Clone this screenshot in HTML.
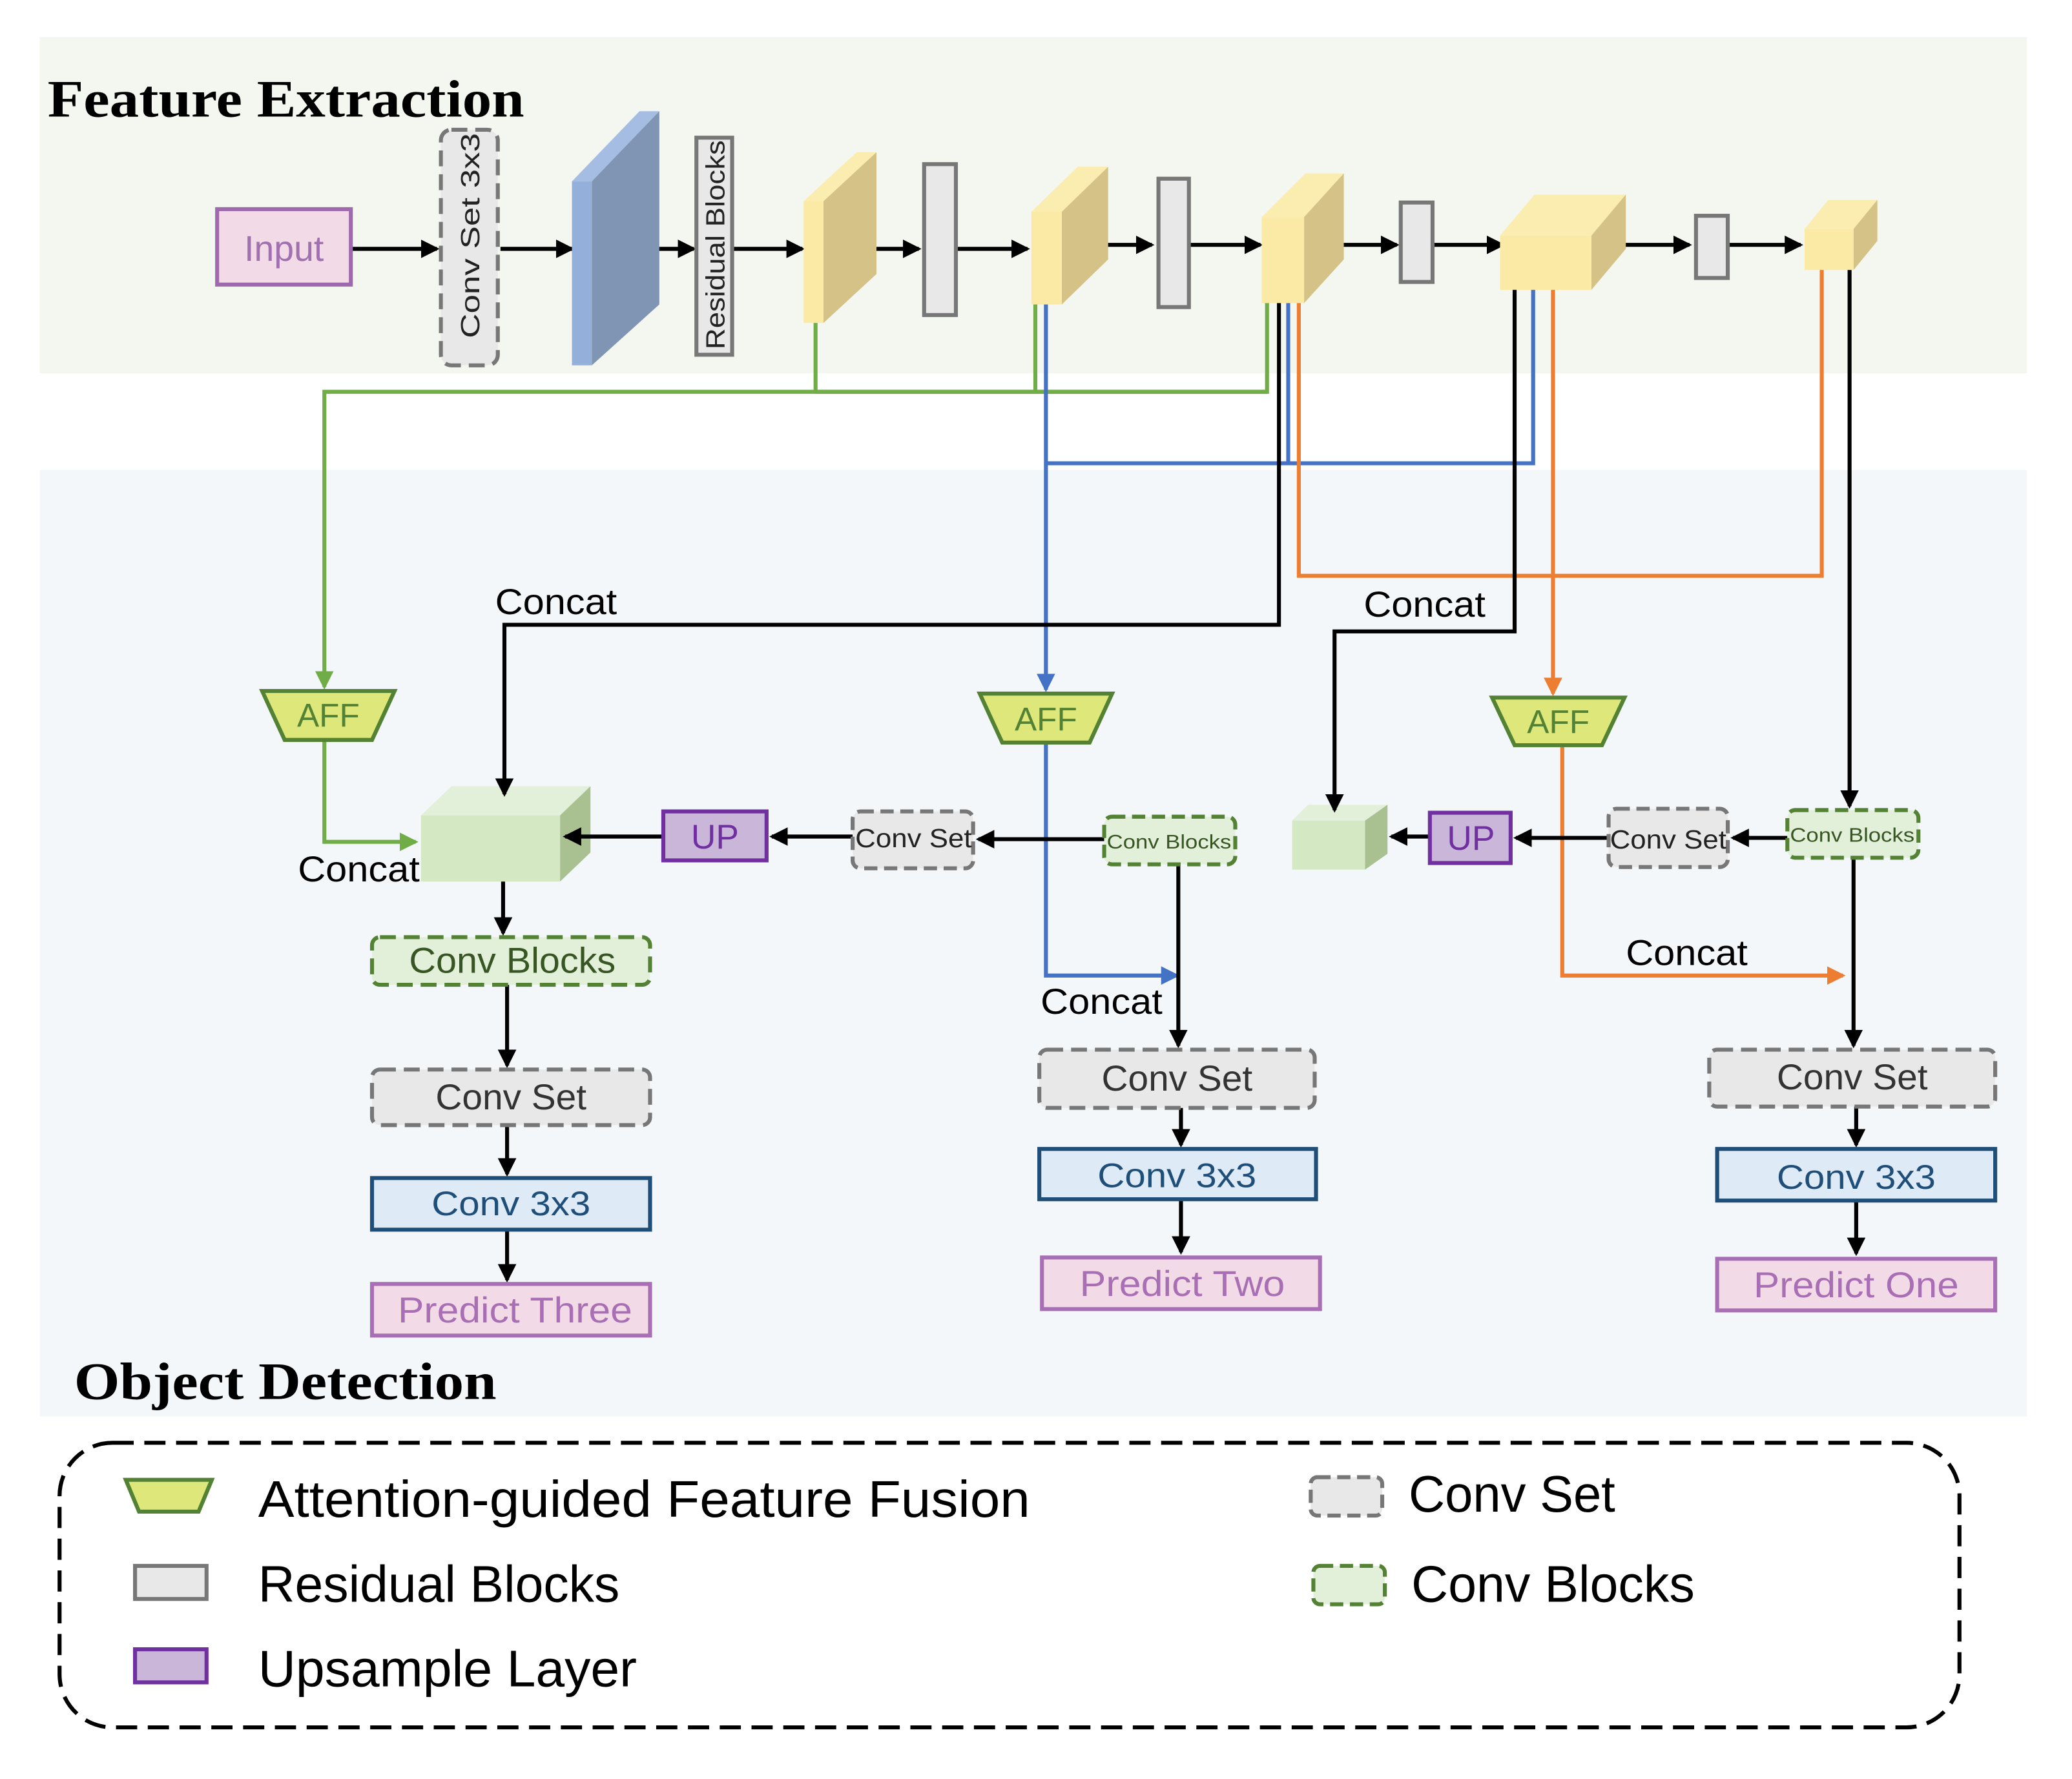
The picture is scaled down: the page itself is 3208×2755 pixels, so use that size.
<!DOCTYPE html>
<html><head><meta charset="utf-8">
<style>
html,body{margin:0;padding:0;background:#fff;}
svg{display:block;}
text{font-family:"Liberation Sans","DejaVu Sans",sans-serif;}
.ser{font-family:"Liberation Serif",serif;font-weight:bold;}
</style></head><body>
<svg width="3208" height="2755" viewBox="0 0 1565 1344" xmlns="http://www.w3.org/2000/svg">
<defs>
<marker id="ak" markerWidth="14" markerHeight="14" refX="12" refY="7" orient="auto" markerUnits="userSpaceOnUse"><path d="M0,0 L14,7 L0,14 z" fill="#000"/></marker>
<marker id="ag" markerWidth="14" markerHeight="14" refX="12" refY="7" orient="auto" markerUnits="userSpaceOnUse"><path d="M0,0 L14,7 L0,14 z" fill="#70ad47"/></marker>
<marker id="ab" markerWidth="14" markerHeight="14" refX="12" refY="7" orient="auto" markerUnits="userSpaceOnUse"><path d="M0,0 L14,7 L0,14 z" fill="#4472c4"/></marker>
<marker id="ao" markerWidth="14" markerHeight="14" refX="12" refY="7" orient="auto" markerUnits="userSpaceOnUse"><path d="M0,0 L14,7 L0,14 z" fill="#ed7d31"/></marker>
</defs>
<rect x="30" y="28" width="1501" height="254" fill="#f4f7f0"/>
<rect x="30" y="355" width="1501" height="715" fill="#f3f7fa"/>
<text x="36" y="88" class="ser" font-size="40" textLength="360" lengthAdjust="spacingAndGlyphs">Feature Extraction</text>
<text x="56" y="1057" class="ser" font-size="40" textLength="319" lengthAdjust="spacingAndGlyphs">Object Detection</text>

<!-- top chain -->
<g stroke="#000" stroke-width="3" marker-end="url(#ak)">
<line x1="266" y1="188" x2="330" y2="188"/>
<line x1="378" y1="188" x2="432" y2="188"/>
<line x1="470" y1="188" x2="524" y2="188"/>
<line x1="553" y1="188" x2="606" y2="188"/>
<line x1="640" y1="188" x2="694" y2="188"/>
<line x1="722" y1="188" x2="776" y2="188"/>
<line x1="818" y1="185" x2="870" y2="185"/>
<line x1="898" y1="185" x2="952" y2="185"/>
<line x1="1001" y1="185" x2="1055" y2="185"/>
<line x1="1082" y1="185" x2="1135" y2="185"/>
<line x1="1221" y1="185" x2="1276" y2="185"/>
<line x1="1305" y1="185" x2="1360" y2="185"/>
</g>
<rect x="164" y="158" width="101" height="57" fill="#f2dbe6" stroke="#9e6aad" stroke-width="3"/>
<text x="214.5" y="197" font-size="27" fill="#a070b0" text-anchor="middle">Input</text>
<rect x="333" y="98" width="43" height="178" rx="8" fill="#e8e8e8" stroke="#777" stroke-width="3" stroke-dasharray="12,6"/>
<text transform="translate(362,178) rotate(-90)" font-size="20" text-anchor="middle" fill="#222" textLength="155" lengthAdjust="spacingAndGlyphs">Conv Set 3x3</text>
<!-- blue slab -->
<polygon points="432,137 483,84 498,84 447,137" fill="#a6bde3"/>
<polygon points="447,137 498,84 498,230 447,276" fill="#8094b4"/>
<rect x="432" y="137" width="15" height="139" fill="#94afd9"/>
<rect x="526" y="104" width="27" height="164" fill="#e8e8e8" stroke="#777" stroke-width="3"/>
<text transform="translate(547,185) rotate(-90)" font-size="20" text-anchor="middle" fill="#222" textLength="158" lengthAdjust="spacingAndGlyphs">Residual Blocks</text>
<!-- yellow blocks -->
<g>
<polygon points="607,152 647,115 662,115 622,152" fill="#fbecb0"/><polygon points="622,152 662,115 662,207 622,244" fill="#d4c286"/><rect x="607" y="152" width="15" height="92" fill="#fbe9a6"/>
<polygon points="779,160 814,126 837,126 802,160" fill="#fbecb0"/><polygon points="802,160 837,126 837,196 802,230" fill="#d4c286"/><rect x="779" y="160" width="23" height="70" fill="#fbe9a6"/>
<polygon points="953,164 986,131 1015,131 985,164" fill="#fbecb0"/><polygon points="985,164 1015,131 1015,196 985,229" fill="#d4c286"/><rect x="953" y="164" width="32" height="65" fill="#fbe9a6"/>
<polygon points="1133,178 1159,147 1228,147 1202,178" fill="#fbecb0"/><polygon points="1202,178 1228,147 1228,188 1202,219" fill="#d4c286"/><rect x="1133" y="178" width="69" height="41" fill="#fbe9a6"/>
<polygon points="1363,173 1381,151 1418,151 1400,173" fill="#fbecb0"/><polygon points="1400,173 1418,151 1418,182 1400,204" fill="#d4c286"/><rect x="1363" y="173" width="37" height="31" fill="#fbe9a6"/>
</g>
<g fill="#e8e8e8" stroke="#777" stroke-width="3">
<rect x="698" y="124" width="24" height="114"/>
<rect x="875" y="135" width="23" height="97"/>
<rect x="1058" y="153" width="24" height="60"/>
<rect x="1281" y="163" width="24" height="47"/>
</g>

<!-- green cubes -->
<polygon points="318,616 341,594 446,594 423,616" fill="#e2efd9"/>
<polygon points="423,616 446,594 446,644 423,666" fill="#a9c090"/>
<rect x="318" y="616" width="105" height="50" fill="#d5e8c4"/>
<polygon points="976,620 988,608 1048,608 1031,620" fill="#e2efd9"/>
<polygon points="1031,620 1048,608 1048,645 1031,657" fill="#a9c090"/>
<rect x="976" y="620" width="55" height="37" fill="#d5e8c4"/>

<!-- connectors -->
<g fill="none" stroke-width="3">
<polyline points="616,244 616,296" stroke="#70ad47"/>
<polyline points="782,230 782,296" stroke="#70ad47"/>
<polyline points="957,229 957,296 245,296 245,519" stroke="#70ad47" marker-end="url(#ag)"/>
<line x1="616" y1="296" x2="957" y2="296" stroke="#70ad47"/>
<polyline points="790,230 790,521" stroke="#4472c4" marker-end="url(#ab)"/>
<polyline points="973,229 973,350" stroke="#4472c4"/>
<polyline points="790,350 1158,350 1158,219" stroke="#4472c4"/>
<polyline points="981,229 981,435 1376,435 1376,204" stroke="#ed7d31"/>
<polyline points="1173,219 1173,524" stroke="#ed7d31" marker-end="url(#ao)"/>
<polyline points="966,229 966,472 381,472 381,600" stroke="#000" marker-end="url(#ak)"/>
<polyline points="1144,219 1144,477 1008,477 1008,612" stroke="#000" marker-end="url(#ak)"/>
<polyline points="1397,204 1397,609" stroke="#000" marker-end="url(#ak)"/>
<polyline points="245,559 245,636 314,636" stroke="#70ad47" marker-end="url(#ag)"/>
<polyline points="790,561 790,737 889,737" stroke="#4472c4" marker-end="url(#ab)"/>
<polyline points="1180,563 1180,737 1392,737" stroke="#ed7d31" marker-end="url(#ao)"/>
</g>
<g font-size="27" fill="#000">
<text x="374" y="464" textLength="92" lengthAdjust="spacingAndGlyphs">Concat</text>
<text x="1030" y="466" textLength="92" lengthAdjust="spacingAndGlyphs">Concat</text>
<text x="225" y="666" textLength="92" lengthAdjust="spacingAndGlyphs">Concat</text>
<text x="786" y="766" textLength="92" lengthAdjust="spacingAndGlyphs">Concat</text>
<text x="1228" y="729" textLength="92" lengthAdjust="spacingAndGlyphs">Concat</text>
</g>
<!-- AFF -->
<g fill="#dde77a" stroke="#548235" stroke-width="3">
<polygon points="198,522 298,522 281,559 215,559"/>
<polygon points="740,524 840,524 823,561 757,561"/>
<polygon points="1127,527 1227,527 1210,563 1144,563"/>
</g>
<g font-size="25" fill="#548235" text-anchor="middle">
<text x="248" y="549">AFF</text><text x="790" y="552">AFF</text><text x="1177" y="554">AFF</text>
</g>

<!-- middle row -->
<g stroke="#000" stroke-width="3" marker-end="url(#ak)">
<line x1="500" y1="632" x2="427" y2="632"/>
<line x1="644" y1="632" x2="583" y2="632"/>
<line x1="834" y1="634" x2="739" y2="634"/>
<line x1="1080" y1="632" x2="1051" y2="632"/>
<line x1="1215" y1="633" x2="1145" y2="633"/>
<line x1="1350" y1="633" x2="1309" y2="633"/>
<line x1="380" y1="666" x2="380" y2="705"/>
<line x1="383" y1="744" x2="383" y2="805"/>
<line x1="383" y1="850" x2="383" y2="887"/>
<line x1="383" y1="929" x2="383" y2="967"/>
<line x1="890" y1="653" x2="890" y2="790"/>
<line x1="892" y1="837" x2="892" y2="865"/>
<line x1="892" y1="906" x2="892" y2="946"/>
<line x1="1400" y1="648" x2="1400" y2="790"/>
<line x1="1402" y1="836" x2="1402" y2="865"/>
<line x1="1402" y1="907" x2="1402" y2="947"/>
</g>

<g stroke-width="3">
<rect x="501" y="613" width="78" height="37" fill="#c9b6d9" stroke="#7030a0"/>
<rect x="1080" y="614" width="61" height="38" fill="#c9b6d9" stroke="#7030a0"/>
<rect x="644" y="613" width="91" height="43" rx="6" fill="#e8e8e8" stroke="#777" stroke-dasharray="10,5"/>
<rect x="1215" y="611" width="90" height="44" rx="6" fill="#e8e8e8" stroke="#777" stroke-dasharray="10,5"/>
<rect x="834" y="617" width="99" height="36" rx="6" fill="#e2efd9" stroke="#548235" stroke-dasharray="10,5"/>
<rect x="1350" y="612" width="99" height="36" rx="6" fill="#e2efd9" stroke="#548235" stroke-dasharray="10,5"/>
<rect x="281" y="708" width="210" height="36" rx="6" fill="#e2efd9" stroke="#548235" stroke-dasharray="12,6"/>
<rect x="281" y="808" width="210" height="42" rx="6" fill="#e8e8e8" stroke="#777" stroke-dasharray="12,6"/>
<rect x="785" y="793" width="208" height="44" rx="6" fill="#e8e8e8" stroke="#777" stroke-dasharray="12,6"/>
<rect x="1291" y="793" width="216" height="43" rx="6" fill="#e8e8e8" stroke="#777" stroke-dasharray="12,6"/>
<rect x="281" y="890" width="210" height="39" fill="#deebf7" stroke="#1f4e79"/>
<rect x="785" y="868" width="209" height="38" fill="#deebf7" stroke="#1f4e79"/>
<rect x="1297" y="868" width="210" height="39" fill="#deebf7" stroke="#1f4e79"/>
<rect x="281" y="970" width="210" height="39" fill="#f2dbe6" stroke="#a86fb5"/>
<rect x="787" y="950" width="210" height="39" fill="#f2dbe6" stroke="#a86fb5"/>
<rect x="1297" y="951" width="210" height="39" fill="#f2dbe6" stroke="#a86fb5"/>
</g>
<g text-anchor="middle">
<text x="540" y="641" font-size="26" fill="#7030a0">UP</text>
<text x="1111" y="642" font-size="26" fill="#7030a0">UP</text>
<text x="690" y="640" font-size="20" fill="#222" textLength="88" lengthAdjust="spacingAndGlyphs">Conv Set</text>
<text x="1260" y="641" font-size="20" fill="#222" textLength="88" lengthAdjust="spacingAndGlyphs">Conv Set</text>
<text x="883" y="641" font-size="15" fill="#375623" textLength="94" lengthAdjust="spacingAndGlyphs">Conv Blocks</text>
<text x="1399" y="636" font-size="15" fill="#375623" textLength="94" lengthAdjust="spacingAndGlyphs">Conv Blocks</text>
<text x="387" y="735" font-size="27" fill="#375623" textLength="156" lengthAdjust="spacingAndGlyphs">Conv Blocks</text>
<text x="386" y="838" font-size="27" fill="#333" textLength="114" lengthAdjust="spacingAndGlyphs">Conv Set</text>
<text x="889" y="824" font-size="27" fill="#333" textLength="114" lengthAdjust="spacingAndGlyphs">Conv Set</text>
<text x="1399" y="823" font-size="27" fill="#333" textLength="114" lengthAdjust="spacingAndGlyphs">Conv Set</text>
<text x="386" y="918" font-size="26" fill="#1f4e79" textLength="120" lengthAdjust="spacingAndGlyphs">Conv 3x3</text>
<text x="889" y="897" font-size="26" fill="#1f4e79" textLength="120" lengthAdjust="spacingAndGlyphs">Conv 3x3</text>
<text x="1402" y="898" font-size="26" fill="#1f4e79" textLength="120" lengthAdjust="spacingAndGlyphs">Conv 3x3</text>
<text x="389" y="999" font-size="27" fill="#a86fb5" textLength="177" lengthAdjust="spacingAndGlyphs">Predict Three</text>
<text x="893" y="979" font-size="27" fill="#a86fb5" textLength="155" lengthAdjust="spacingAndGlyphs">Predict Two</text>
<text x="1402" y="980" font-size="27" fill="#a86fb5" textLength="155" lengthAdjust="spacingAndGlyphs">Predict One</text>
</g>

<!-- legend -->
<rect x="45" y="1090" width="1435" height="215" rx="40" fill="none" stroke="#000" stroke-width="3" stroke-dasharray="16,8"/>
<polygon points="95,1118 160,1118 150,1142 105,1142" fill="#dde77a" stroke="#548235" stroke-width="3"/>
<rect x="102" y="1183" width="54" height="25" fill="#e8e8e8" stroke="#777" stroke-width="3"/>
<rect x="102" y="1246" width="54" height="25" fill="#c9b6d9" stroke="#7030a0" stroke-width="3"/>
<rect x="990" y="1116" width="54" height="29" rx="5" fill="#e8e8e8" stroke="#777" stroke-width="3" stroke-dasharray="10,5"/>
<rect x="992" y="1183" width="54" height="29" rx="5" fill="#e2efd9" stroke="#548235" stroke-dasharray="10,5" stroke-width="3"/>
<g font-size="39" fill="#000">
<text x="195" y="1146" textLength="583" lengthAdjust="spacingAndGlyphs">Attention-guided Feature Fusion</text>
<text x="195" y="1210" textLength="273" lengthAdjust="spacingAndGlyphs">Residual Blocks</text>
<text x="195" y="1274" textLength="286" lengthAdjust="spacingAndGlyphs">Upsample Layer</text>
<text x="1064" y="1142" textLength="156" lengthAdjust="spacingAndGlyphs">Conv Set</text>
<text x="1066" y="1210" textLength="214" lengthAdjust="spacingAndGlyphs">Conv Blocks</text>
</g>
</svg>
</body></html>
